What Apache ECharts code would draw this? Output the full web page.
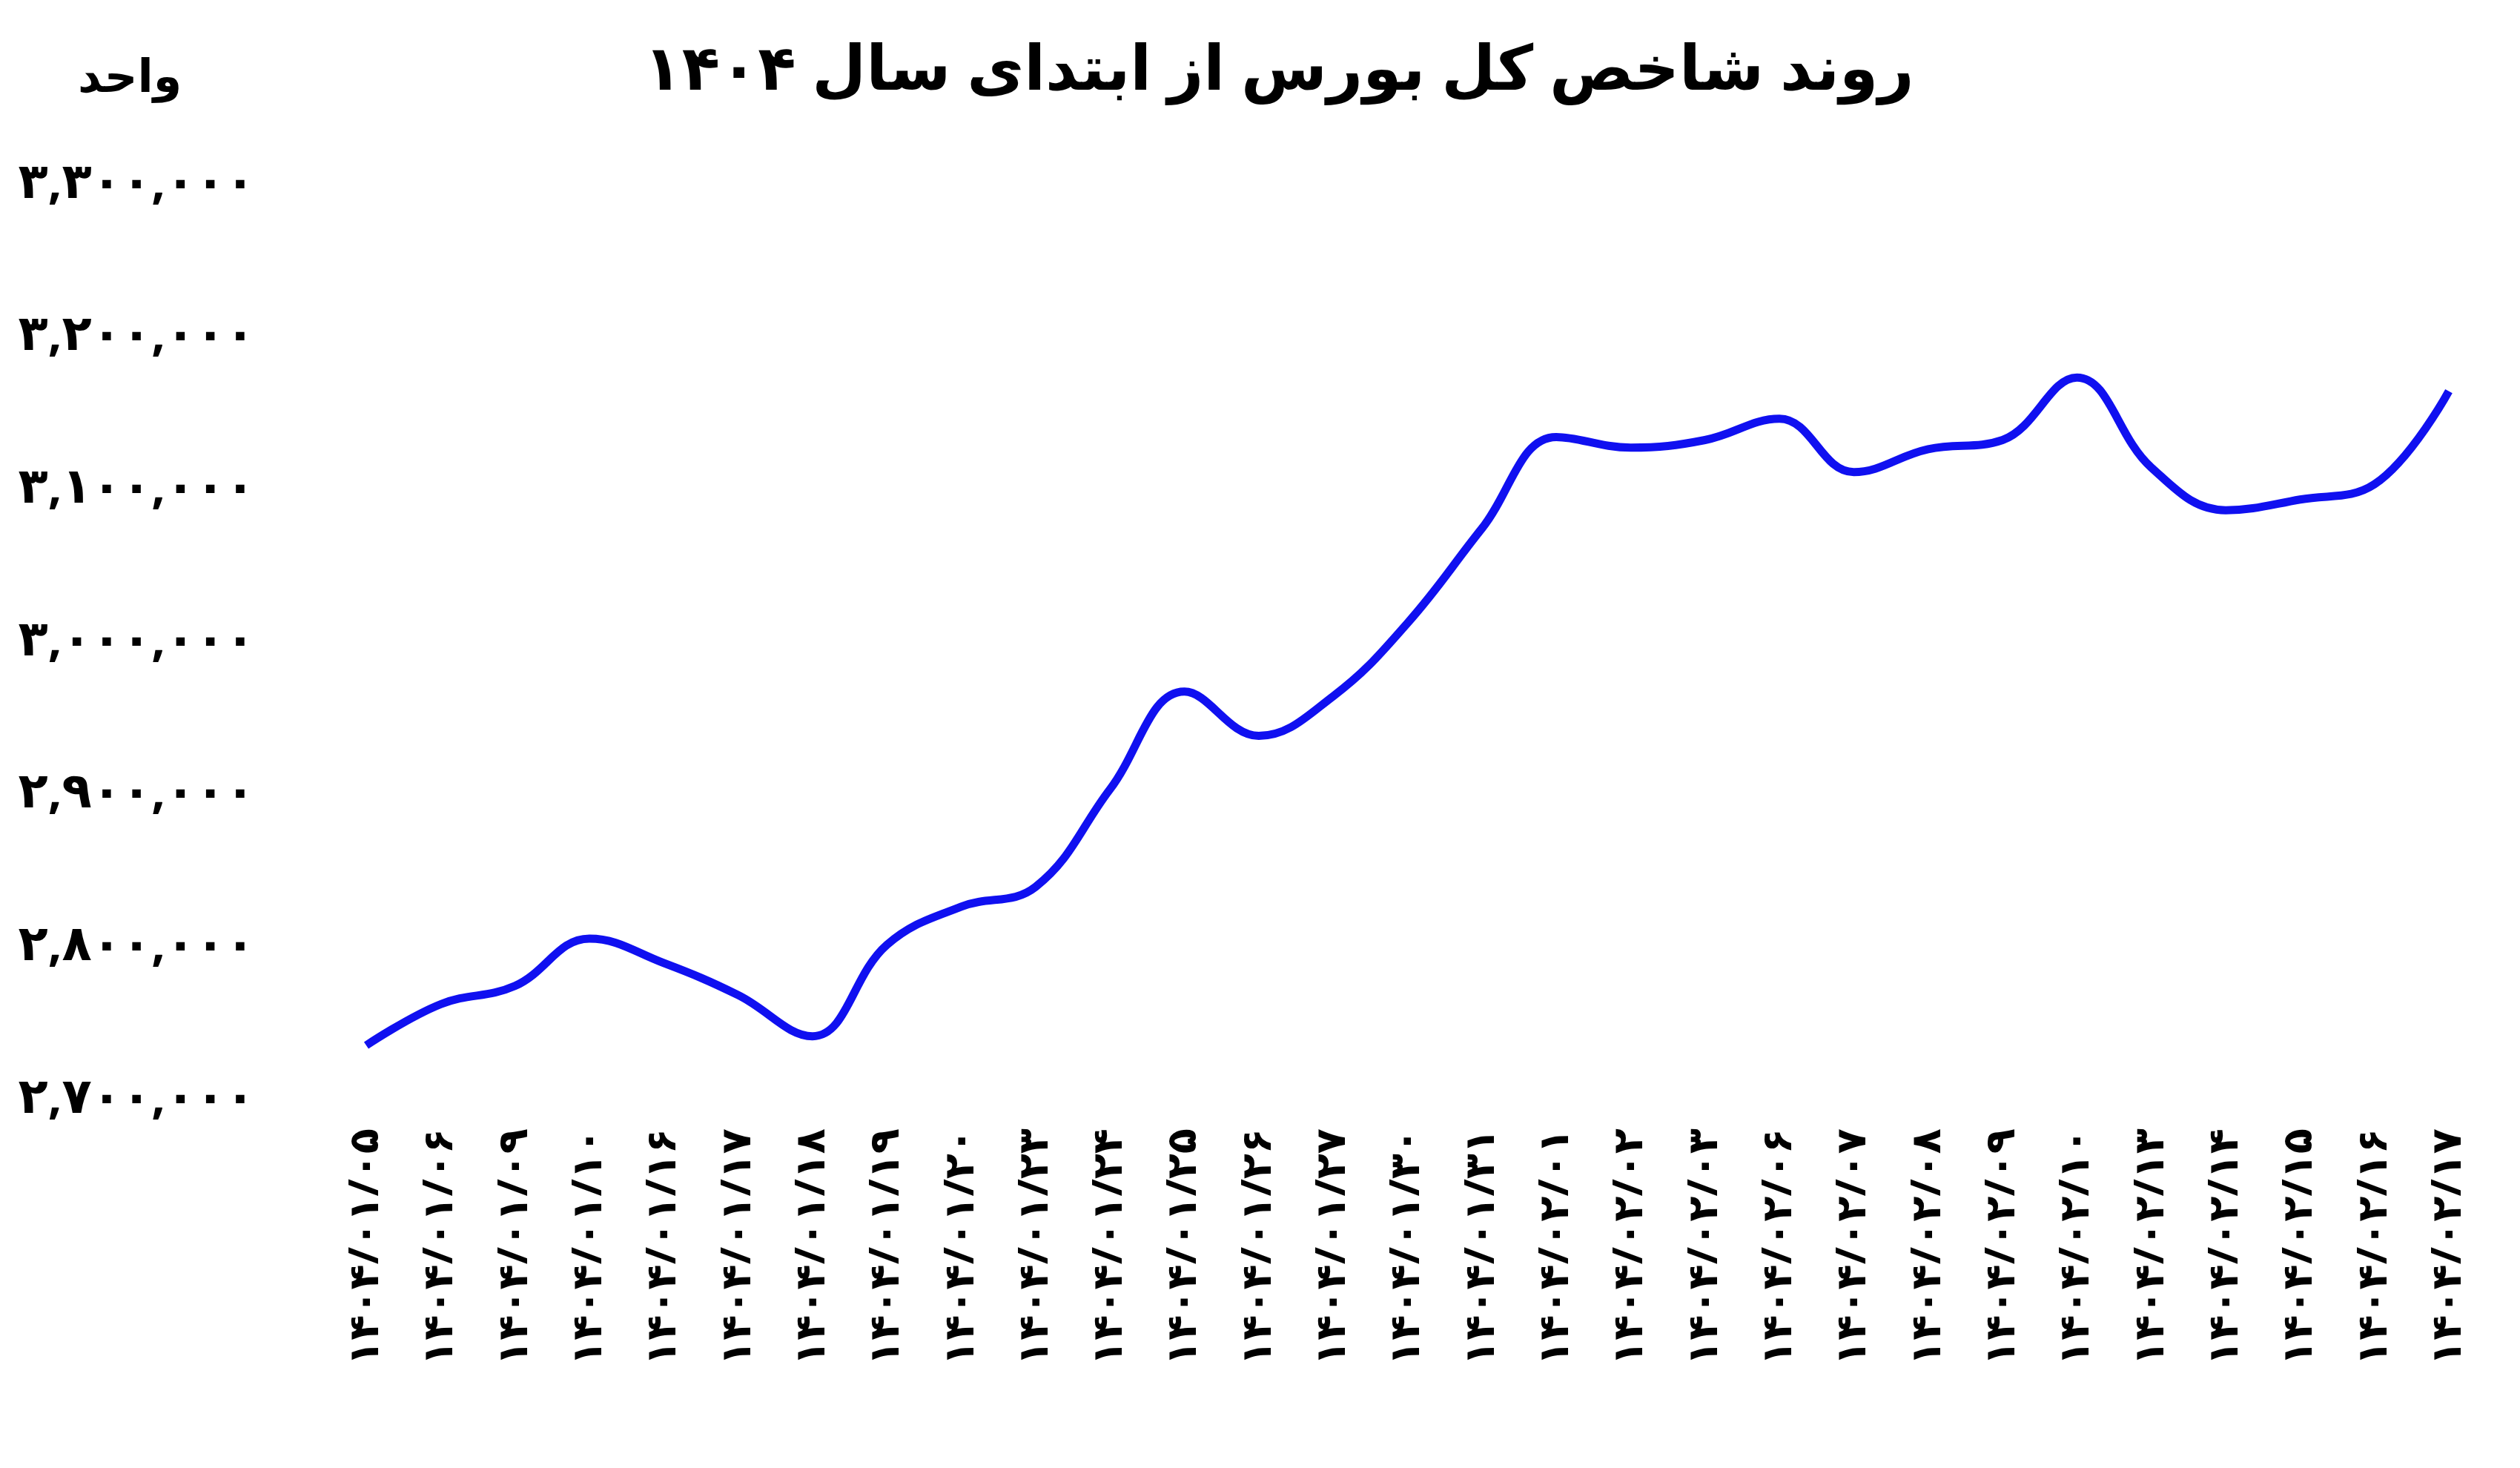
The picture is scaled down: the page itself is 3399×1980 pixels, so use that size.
<!DOCTYPE html>
<html><head><meta charset="utf-8">
<script src="https://cdn.jsdelivr.net/npm/echarts@6/dist/echarts.min.js"></script>
<style>html,body{margin:0;padding:0;background:#fff}#c{width:3399px;height:1980px}</style>
</head><body><div id="c"></div>
<script>
const categories = ['1404/01/05','1404/01/06','1404/01/09','1404/01/10','1404/01/16','1404/01/17','1404/01/18','1404/01/19','1404/01/20','1404/01/23','1404/01/24','1404/01/25','1404/01/26','1404/01/27','1404/01/30','1404/01/31','1404/02/01','1404/02/02','1404/02/03','1404/02/06','1404/02/07','1404/02/08','1404/02/09','1404/02/10','1404/02/13','1404/02/14','1404/02/15','1404/02/16','1404/02/17'];
const values = [2735000,2762000,2774000,2805000,2789000,2768000,2741000,2801000,2826000,2839000,2903000,2967000,2938000,2964000,3012000,3074000,3134000,3127000,3132000,3146000,3111000,3126000,3132000,3173000,3114000,3086000,3093000,3103000,3164000];
const fa = s => String(s).replace(/[0-9]/g, d => '۰۱۲۳۴۵۶۷۸۹'[d]);
const font = '"Noto Sans", "DejaVu Sans", sans-serif';
const chart = echarts.init(document.getElementById('c'));
chart.setOption({
  backgroundColor: '#fff',
  title: { text: fa('روند شاخص کل بورس از ابتدای سال 1404'), left: 1720, top: 50, textAlign: 'center',
    textStyle: { fontSize: 84, fontWeight: 'bold', color: '#000', fontFamily: font } },
  graphic: [{ type: 'text', left: 105, top: 75,
    style: { text: 'واحد', fontSize: 62, fontWeight: 'bold', fill: '#000', fontFamily: font } }],
  grid: { left: 494, right: 96, top: 248, bottom: 498 },
  xAxis: { type: 'category', data: categories, boundaryGap: false,
    axisLine: { show: false }, axisTick: { show: false },
    axisLabel: { rotate: 90, interval: 0, fontSize: 56, fontWeight: 'bold', color: '#000', fontFamily: font, margin: 40,
      formatter: v => fa(v) } },
  yAxis: { type: 'value', min: 2700000, max: 3300000, interval: 100000,
    splitLine: { show: false }, axisLine: { show: false }, axisTick: { show: false },
    axisLabel: { fontSize: 66, fontWeight: 'bold', color: '#000', fontFamily: font, margin: 150,
      formatter: v => fa(v.toLocaleString('en-US')) } },
  series: [{ type: 'line', data: values, smooth: 0.4, symbol: 'none',
    lineStyle: { color: '#1010f0', width: 11 } }]
});
</script></body></html>
